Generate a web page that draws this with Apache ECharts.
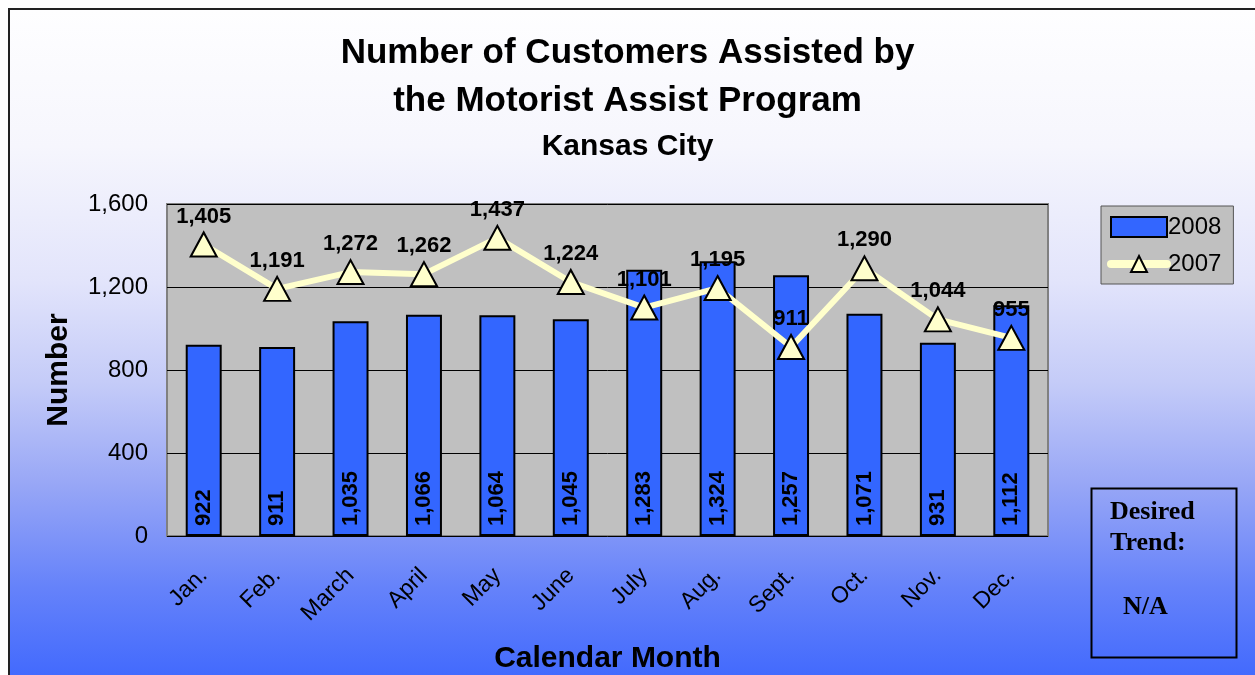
<!DOCTYPE html>
<html>
<head>
<meta charset="utf-8">
<script src="https://cdn.jsdelivr.net/npm/echarts@6/dist/echarts.min.js"></script>
<style>
html,body{margin:0;padding:0;background:#fff;width:1255px;height:675px;overflow:hidden;}
#bg{position:absolute;left:8px;top:8px;width:1260px;height:680px;border-left:2px solid #222;border-top:2px solid #222;
background:linear-gradient(to bottom,#fefeff 0%,#f6f6fd 20%,#e2e4fb 40%,#c4cbf8 55%,#97a6f6 70%,#6582fa 85%,#3d66fe 100%);}
#chart{position:absolute;left:0;top:0;width:1255px;height:675px;}
</style>
</head>
<body>
<div id="bg"></div>
<div id="chart"></div>
<script>
var months = ["Jan.","Feb.","March","April","May","June","July","Aug.","Sept.","Oct.","Nov.","Dec."];
var values2008 = [922, 911, 1035, 1066, 1064, 1045, 1283, 1324, 1257, 1071, 931, 1112];
var values2007 = [1405, 1191, 1272, 1262, 1437, 1224, 1101, 1195, 911, 1290, 1044, 955];
var yTicks = [0, 400, 800, 1200, 1600];

function fmt(v){ return Number(v).toLocaleString('en-US'); }

var chart = echarts.init(document.getElementById('chart'), null, {renderer:'canvas'});
var font = '"Liberation Sans", Arial, sans-serif';
var option = {
  backgroundColor: 'transparent',
  animation: false,
  textStyle: {fontFamily: font},
  grid: {left: 167, top: 204, right: 207, bottom: 139, show: true, containLabel: false, outerBoundsMode: 'none',
    backgroundColor: '#c0c0c0', borderColor: '#808080', borderWidth: 2},
  legend: {
    orient: 'vertical', left: 1101, top: 206,
    padding: [9, 12, 8, 6], itemGap: 13,
    backgroundColor: '#c0c0c0', borderColor: '#555', borderWidth: 1,
    itemWidth: 56, itemHeight: 20,
    textStyle: {fontFamily: font, fontSize: 24, color: '#000', padding: [0,0,0,-4]},
    data: [
      {name:'2008', icon:'rect', itemStyle:{borderColor:'#000', borderWidth:2}},
      {name:'2007', lineStyle:{width:8, color:'#ffffcc', cap:'round'}, itemStyle:{borderColor:'#000', borderWidth:2}}
    ]
  },
  xAxis: {
    type: 'category', data: months,
    name: 'Calendar Month', nameLocation: 'middle', nameGap: 108,
    nameTextStyle: {fontFamily: font, fontSize: 30, fontWeight: 'bold', color: '#000'},
    axisLine: {show: false}, axisTick: {show: false},
    axisLabel: {rotate: 45, margin: 36, fontSize: 23, color: '#000', fontFamily: font}
  },
  yAxis: {
    type: 'value', min: yTicks[0], max: yTicks[yTicks.length-1], interval: 400,
    name: 'Number', nameLocation: 'middle', nameGap: 93, nameRotate: 90,
    nameTextStyle: {fontFamily: font, fontSize: 30, fontWeight: 'bold', color: '#000'},
    axisLine: {show: false}, axisTick: {show: false},
    axisLabel: {margin: 19, fontSize: 24, color: '#000', fontFamily: font, formatter: function(v){return fmt(v);}},
    splitLine: {lineStyle: {color: '#000', width: 1}}
  },
  series: [
    {
      name: '2008', type: 'bar', data: values2008, barWidth: '49%',
      itemStyle: {color: '#3366ff', borderColor: '#000', borderWidth: 2},
      label: {show: true, position: 'insideBottom', rotate: 90, align: 'left', verticalAlign: 'middle',
        distance: 10, fontSize: 22, fontWeight: 'bold', color: '#000', fontFamily: font,
        formatter: function(p){return fmt(p.value);}},
      z: 2
    },
    {
      name: '2007', type: 'line', data: values2007,
      symbol: 'triangle', symbolSize: [26, 24],
      lineStyle: {color: '#ffffcc', width: 6},
      itemStyle: {color: '#ffffcc', borderColor: '#000', borderWidth: 2},
      label: {show: true, position: 'top', distance: 4, fontSize: 22, fontWeight: 'bold', color: '#000', fontFamily: font,
        formatter: function(p){return fmt(p.value);}},
      z: 5
    }
  ],
  graphic: [
    {type:'text', left:'center', top: 36, style:{text:'Number of Customers Assisted by', font:'bold 35px "Liberation Sans", Arial, sans-serif', fill:'#000'}},
    {type:'text', left:'center', top: 84, style:{text:'the Motorist Assist Program', font:'bold 35px "Liberation Sans", Arial, sans-serif', fill:'#000'}},
    {type:'text', left:'center', top: 132, style:{text:'Kansas City', font:'bold 30px "Liberation Sans", Arial, sans-serif', fill:'#000'}},
    {type:'rect', left: 1089, top: 486, shape:{width:145, height:169}, style:{fill:'none', stroke:'#000', lineWidth:2}},
    {type:'text', left: 1110, top: 497, style:{text:'Desired\nTrend:', font:'bold 26px "Liberation Serif", "Times New Roman", serif', fill:'#000', lineHeight: 31}},
    {type:'text', left: 1123, top: 594, style:{text:'N/A', font:'bold 26px "Liberation Serif", "Times New Roman", serif', fill:'#000'}}
  ]
};
chart.setOption(option);
</script>
</body>
</html>
